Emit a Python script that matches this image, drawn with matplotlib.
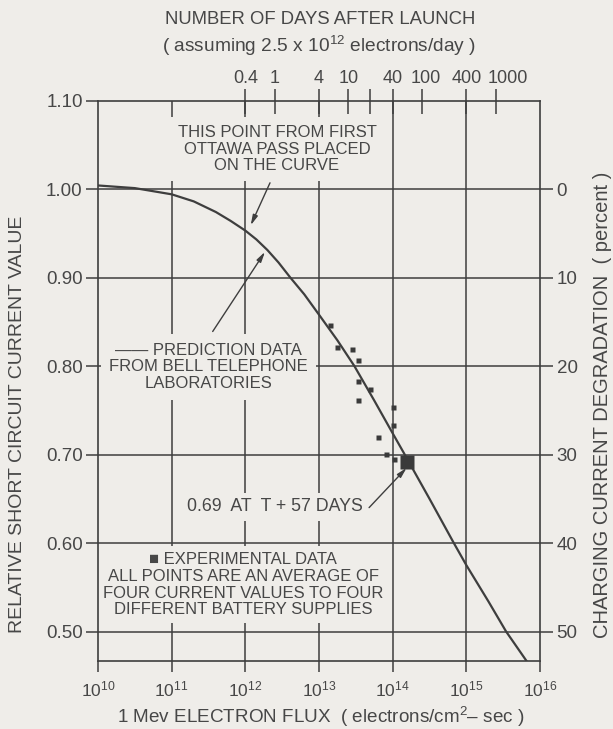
import numpy as np
import matplotlib
matplotlib.use("Agg")
import matplotlib.pyplot as plt
from matplotlib.transforms import ScaledTranslation

# ---------------- data ----------------
curve_log_flux = [10.0, 10.5, 11.0, 11.3, 11.6, 11.8, 12.0, 12.15, 12.3, 12.45,
                  12.61, 12.8, 13.0, 13.25, 13.48, 13.75, 14.0, 14.15, 14.5,
                  14.83, 15.0, 15.3, 15.54, 15.84]
curve_value = [1.004, 1.001, 0.994, 0.986, 0.974, 0.964, 0.953, 0.943, 0.931, 0.917,
               0.900, 0.881, 0.858, 0.829, 0.800, 0.761, 0.724, 0.702, 0.650,
               0.600, 0.575, 0.534, 0.500, 0.464]

exp_flux = [1.41e13, 1.77e13, 2.83e13, 3.41e13, 3.41e13, 4.92e13, 3.41e13,
            1.02e14, 1.02e14, 6.27e13, 8.11e13, 1.05e14]
exp_value = [0.846, 0.821, 0.819, 0.807, 0.783, 0.774, 0.762,
             0.754, 0.733, 0.720, 0.701, 0.695]

big_flux = [1.58e14]
big_value = [0.692]

y_ticks = [0.50, 0.60, 0.70, 0.80, 0.90, 1.00, 1.10]
y_tick_labels = ["0.50", "0.60", "0.70", "0.80", "0.90", "1.00", "1.10"]
deg_ticks = [0, 10, 20, 30, 40, 50]
x_decades = [10, 11, 12, 13, 14, 15, 16]
day_ticks = [0.4, 1, 4, 10, 20, 40, 100, 400, 1000]
day_labels = ["0.4", "1", "4", "10", "", "40", "100", "400", "1000"]
electrons_per_day = 2.5e12

# ---------------- style ----------------
BG = "#efede9"
LC = "#3e3e3e"
TC = "#474747"
FONT = ["Liberation Sans", "DejaVu Sans"]
plt.rcParams["font.family"] = FONT
plt.rcParams["mathtext.fontset"] = "custom"
plt.rcParams["mathtext.rm"] = "Liberation Sans"
plt.rcParams["mathtext.default"] = "regular"
plt.rcParams["text.color"] = TC

W, H = 613, 729
fig = plt.figure(figsize=(W / 100, H / 100), dpi=100, facecolor=BG)
ax = fig.add_axes([98 / W, 1 - 661 / H, 442 / W, 560.5 / H], facecolor=BG)

ax.set_xscale("log")
ax.set_xlim(10.0 ** x_decades[0], 10.0 ** x_decades[-1])
ax.set_ylim(0.4667, 1.10)
ax.set_axisbelow(True)

# grid
for d in x_decades[1:-1]:
    ax.axvline(10.0 ** d, color=LC, lw=1.1, zorder=0.5)
for v in y_ticks[:-1]:
    ax.axhline(v, color=LC, lw=1.1, zorder=0.5)

for s in ax.spines.values():
    s.set_color(LC)
    s.set_linewidth(1.2)
    s.set_zorder(4)

# left axis ticks
ax.set_yticks(y_ticks)
ax.set_yticklabels(y_tick_labels)
ax.tick_params(axis="y", which="both", direction="out", length=9, width=1.1,
               color=LC, labelsize=13.5, labelcolor=TC, pad=2)
ax.yaxis.set_minor_locator(matplotlib.ticker.NullLocator())

# bottom axis ticks
ax.set_xticks([10.0 ** d for d in x_decades])
ax.set_xticklabels([r"$10^{%d}$" % d for d in x_decades])
ax.xaxis.set_minor_locator(matplotlib.ticker.NullLocator())
ax.tick_params(axis="x", which="major", direction="out", length=8, width=1.1,
               color=LC, labelsize=12.5, labelcolor=TC, pad=5)

# right axis: degradation percent
axr = ax.twinx()
axr.set_ylim(ax.get_ylim())
axr.set_yticks([1 - p / 100 for p in deg_ticks])
axr.set_yticklabels([str(p) for p in deg_ticks])
axr.tick_params(axis="y", direction="out", length=9, width=1.1, color=LC,
                labelsize=13.5, labelcolor=TC, pad=3)
for s in axr.spines.values():
    s.set_visible(False)

# top axis: days after launch
axt = ax.twiny()
axt.set_xscale("log")
axt.set_xlim(ax.get_xlim())
axt.set_xticks([d * electrons_per_day for d in day_ticks])
axt.set_xticklabels(day_labels)
axt.xaxis.set_minor_locator(matplotlib.ticker.NullLocator())
axt.tick_params(axis="x", direction="inout", length=18, width=1.1, color=LC,
                labelsize=13, labelcolor=TC, pad=1)
for s in axt.spines.values():
    s.set_visible(False)
# shift the crowded "1000" label slightly to the right as in the original
for lab in axt.get_xticklabels():
    if lab.get_text() == "1000":
        lab.set_transform(lab.get_transform() + ScaledTranslation(12 / 100, 0, fig.dpi_scale_trans))
    if lab.get_text() == "100":
        lab.set_transform(lab.get_transform() + ScaledTranslation(4 / 100, 0, fig.dpi_scale_trans))

# curve and data
ax.plot(10.0 ** np.array(curve_log_flux), curve_value, color=LC, lw=1.6, zorder=5)
ax.plot(exp_flux, exp_value, ls="none", marker="s", ms=3.6, color="#3a3a3a",
        mec="none", zorder=6)
ax.plot(big_flux, big_value, ls="none", marker="s", ms=10, color="#3a3a3a",
        mec="none", zorder=6)

box = dict(boxstyle="square,pad=0.45", fc=BG, ec="none")
tkw = dict(ha="center", va="center", fontsize=12, color=TC, zorder=3,
           linespacing=1.15)

ax.text(10 ** 12.43, 1.045, "THIS POINT FROM FIRST\nOTTAWA PASS PLACED\nON THE CURVE",
        bbox=box, **tkw)
ax.text(10 ** 11.50, 0.799, "\u2014\u2014 PREDICTION DATA\nFROM BELL TELEPHONE\nLABORATORIES",
        bbox=dict(boxstyle="square,pad=0.5", fc=BG, ec="none"), **tkw)
ax.text(10 ** 12.40, 0.641, "0.69  AT  T + 57 DAYS",
        bbox=dict(boxstyle="square,pad=0.3", fc=BG, ec="none"),
        **{**tkw, "fontsize": 12.8})
ax.text(10 ** 11.97, 0.553,
        "\u25a0 EXPERIMENTAL DATA\nALL POINTS ARE AN AVERAGE OF\nFOUR CURRENT VALUES TO FOUR\nDIFFERENT BATTERY SUPPLIES",
        bbox=dict(boxstyle="square,pad=0.35", fc=BG, ec="none"), **tkw)

arrow = dict(arrowstyle="-|>,head_length=0.6,head_width=0.15", color=LC, lw=1.0,
             shrinkA=0, shrinkB=0)
ax.annotate("", xy=(10 ** 12.073, 0.959), xytext=(10 ** 12.335, 1.007),
            arrowprops=arrow, zorder=7)
ax.annotate("", xy=(10 ** 12.267, 0.929), xytext=(10 ** 11.557, 0.839),
            arrowprops=arrow, zorder=7)
ax.annotate("", xy=(10 ** 14.19, 0.685), xytext=(10 ** 13.68, 0.640),
            arrowprops=arrow, zorder=7)

# axis titles
fig.text(320 / W, 1 - 20 / H, "NUMBER OF DAYS AFTER LAUNCH", ha="center",
         va="center", fontsize=13.3, color=TC)
fig.text(319 / W, 1 - 46 / H, r"( assuming 2.5 x 10$^{12}$ electrons/day )",
         ha="center", va="center", fontsize=13.8, color=TC)
fig.text(321 / W, 1 - 717 / H, "1 Mev ELECTRON FLUX  ( electrons/cm$^{2}$\u2013 sec )",
         ha="center", va="center", fontsize=13.6, color=TC)
fig.text(18 / W, 1 - 424 / H, "RELATIVE SHORT CIRCUIT CURRENT VALUE", rotation=90,
         ha="center", va="center", fontsize=14, color=TC)
fig.text(603 / W, 1 - 405 / H, "CHARGING CURRENT DEGRADATION  ( percent )", rotation=90,
         ha="center", va="center", fontsize=14.5, color=TC)

fig.savefig("out.png", dpi=100, facecolor=BG)
